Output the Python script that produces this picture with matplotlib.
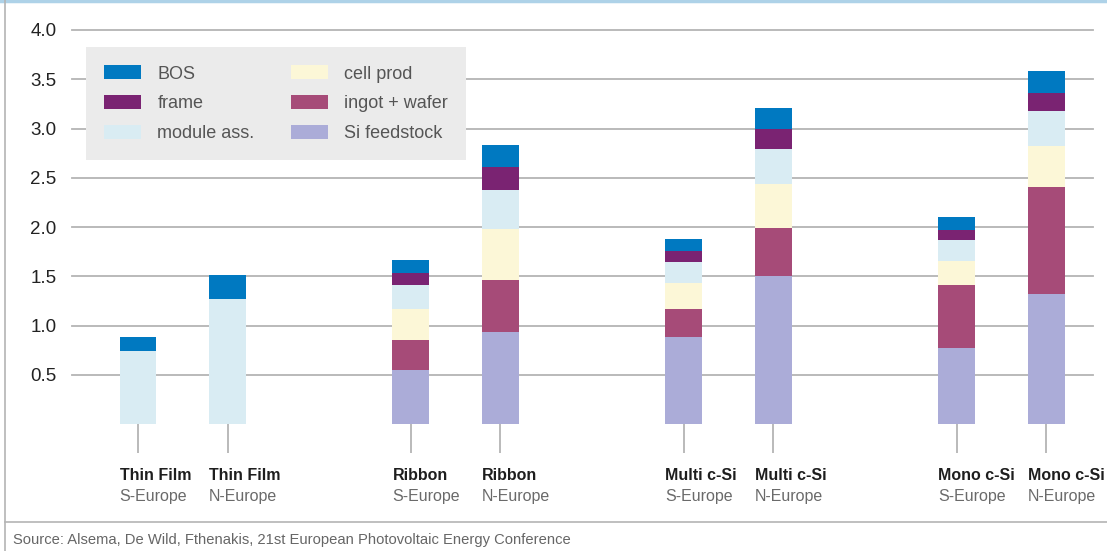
import numpy as np
import matplotlib
matplotlib.use("Agg")
import matplotlib.pyplot as plt
from matplotlib.lines import Line2D

plt.rcParams["font.family"] = ["Liberation Sans", "DejaVu Sans"]

# ---------- data ----------
technologies = ["Thin Film", "Ribbon", "Multi c-Si", "Mono c-Si"]
regions = ["S-Europe", "N-Europe"]

# stack order bottom -> top
components = ["Si feedstock", "ingot + wafer", "cell prod", "module ass.", "frame", "BOS"]
colors = ["#abacd8", "#a64b78", "#fcf7d7", "#d9ecf3", "#7a2372", "#0079c1"]

# one value per bar: TF-S, TF-N, Rib-S, Rib-N, Multi-S, Multi-N, Mono-S, Mono-N
si_feedstock = [0.00, 0.00, 0.55, 0.93, 0.88, 1.50, 0.77, 1.32]
ingot_wafer = [0.00, 0.00, 0.30, 0.53, 0.29, 0.49, 0.64, 1.09]
cell_prod = [0.00, 0.00, 0.32, 0.52, 0.26, 0.45, 0.24, 0.41]
module_ass = [0.74, 1.27, 0.24, 0.40, 0.21, 0.35, 0.22, 0.36]
frame = [0.00, 0.00, 0.12, 0.23, 0.12, 0.21, 0.10, 0.18]
bos = [0.14, 0.24, 0.13, 0.22, 0.12, 0.21, 0.13, 0.22]

yticks = [0.5, 1.0, 1.5, 2.0, 2.5, 3.0, 3.5, 4.0]
source = "Source: Alsema, De Wild, Fthenakis, 21st European Photovoltaic Energy Conference"

# ---------- layout ----------
W, H = 1107, 551
fig = plt.figure(figsize=(W / 100, H / 100), dpi=100)

ax_left, ax_right, ax_top, ax_bottom = 72, 1093, 30, 424  # pixels
ax = fig.add_axes([ax_left / W, 1 - ax_bottom / H,
                   (ax_right - ax_left) / W, (ax_bottom - ax_top) / H])

group_gap = 3.05
bar_w = 0.413
pos = np.array([g * group_gap + k for g in range(len(technologies)) for k in range(len(regions))])

series = [si_feedstock, ingot_wafer, cell_prod, module_ass, frame, bos]
bottom = np.zeros(len(pos))
handles = []
for name, vals, col in zip(components, series, colors):
    vals = np.array(vals)
    b = ax.bar(pos, vals, bar_w, bottom=bottom, color=col, label=name,
               linewidth=0, zorder=3)
    handles.append(b)
    bottom += vals

unit = 89.5
x0 = -(138 - ax_left) / unit
ax.set_xlim(x0, x0 + (ax_right - ax_left) / unit)
ax.set_ylim(0, 4.0)

for sp in ax.spines.values():
    sp.set_visible(False)

ax.set_yticks(yticks)
ax.set_yticklabels([f"{v:.1f}" for v in yticks], fontsize=13.5, color="#222222")
ax.tick_params(axis="y", length=0, pad=11)
for v in yticks:
    ax.axhline(v, color="#b4b4b4", lw=1.3, zorder=1, clip_on=False)

ax.set_xticks(pos)
ax.set_xticklabels([])
ax.tick_params(axis="x", length=21, width=1.3, color="#b4b4b4")

# category labels under the ticks
for i, p in enumerate(pos):
    tech = technologies[i // 2]
    reg = regions[i % 2]
    ax.annotate(tech, xy=(p - bar_w / 2, 0), xycoords=("data", "axes fraction"),
                xytext=(0, -51 * 0.72), textcoords="offset points",
                ha="left", va="center", fontsize=11.5, fontweight="bold",
                color="#1e1e1e", annotation_clip=False)
    ax.annotate(reg, xy=(p - bar_w / 2, 0), xycoords=("data", "axes fraction"),
                xytext=(0, -73 * 0.72), textcoords="offset points",
                ha="left", va="center", fontsize=11.5, color="#6a6a6a",
                annotation_clip=False)

# legend: two columns, BOS first
leg = ax.legend(handles[::-1], components[::-1], ncol=2,
                loc="upper left", bbox_to_anchor=(86 / W, 1 - 47 / H),
                bbox_transform=fig.transFigure, frameon=True, fontsize=13,
                handlelength=2.05, handleheight=0.85, handletextpad=0.9,
                columnspacing=2.0, labelspacing=0.68, borderpad=1.0,
                borderaxespad=0)
leg.get_frame().set_facecolor("#ebebeb")
leg.get_frame().set_edgecolor("none")
leg.get_frame().set_boxstyle("square", pad=0)
leg.get_frame().set_alpha(1)
leg.set_zorder(5)
for t in leg.get_texts():
    t.set_color("#555555")

# page frame lines
fig.add_artist(Line2D([0, 1], [1 - 1 / H, 1 - 1 / H], transform=fig.transFigure,
                      color="#aed2e8", lw=2.5))
fig.add_artist(Line2D([5 / W, 5 / W], [0, 1], transform=fig.transFigure,
                      color="#b4b4b4", lw=1.2))
fig.add_artist(Line2D([5 / W, 1], [1 - 522 / H, 1 - 522 / H], transform=fig.transFigure,
                      color="#b4b4b4", lw=1.2))
fig.text(13 / W, 1 - 540 / H, source, fontsize=10.6, color="#666666",
         ha="left", va="center")

fig.savefig("out.png", dpi=100)
